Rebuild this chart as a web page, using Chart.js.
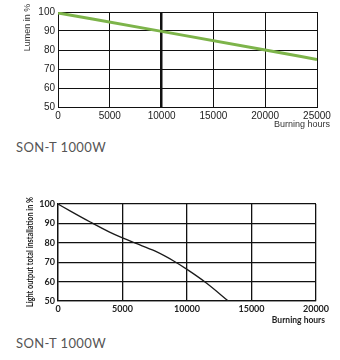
<!DOCTYPE html>
<html>
<head>
<meta charset="utf-8">
<script src="https://cdn.jsdelivr.net/npm/chart.js@4/dist/chart.umd.min.js"></script>
<style>
  body { margin: 0; background: #fff; }
  #wrap { position: relative; width: 340px; height: 360px; }
  canvas { position: absolute; left: 0; }
  .caption {
    position: absolute; left: 16px;
    font-family: Lato, "Noto Sans", sans-serif; font-size: 13px;
    letter-spacing: 0.4px; color: #555; line-height: 16px;
  }
</style>
</head>
<body>
<div id="wrap">
  <canvas id="lumenChart" style="top:0px"></canvas>
  <div class="caption" style="top:139px">SON-T 1000W</div>
  <canvas id="installChart" style="top:185px"></canvas>
  <div class="caption" style="top:335px">SON-T 1000W</div>
</div>
<script>
// lamp lumen maintenance
const lumenHours = [0, 10000, 20000, 25000];
const lumenPercent = [99.5, 89.8, 80, 75];

// light output of the whole installation
const installHours = [0, 1000, 2500, 4000, 5000, 6000, 7500, 9000, 10000, 11500, 13200];
const installPercent = [100, 96.2, 90.7, 85.5, 82.5, 79.8, 75.8, 70.5, 66.3, 59.3, 50];

const yTicks = [50, 60, 70, 80, 90, 100];
const lumenXMax = 25000;
const installXMax = 20000;

// axis titles drawn next to the plot area
const axisText = {
  id: 'axisText',
  afterDraw(chart, args, o) {
    const { ctx, chartArea } = chart;
    ctx.save();
    ctx.fillStyle = o.color;
    ctx.font = o.font;
    ctx.textBaseline = 'middle';
    ctx.textAlign = 'right';
    ctx.fillText('Burning hours', chartArea.right + o.xDx, chartArea.bottom + o.xDy);
    ctx.translate(o.yX, o.yY);
    ctx.rotate(-Math.PI / 2);
    ctx.textAlign = 'center';
    ctx.fillText(o.yText, 0, 0, o.yMax);
    ctx.restore();
  }
};

function makeChart(id, w, h, pad, xMax, hours, values, look) {
  const canvas = document.getElementById(id);
  canvas.width = w;
  canvas.height = h;
  canvas.style.width = w + 'px';
  canvas.style.height = h + 'px';
  return new Chart(canvas, {
    type: 'line',
    data: {
      datasets: [{
        data: hours.map((x, i) => ({ x: x, y: values[i] })),
        borderColor: look.lineColor,
        borderWidth: look.lineWidth,
        pointRadius: 0,
        cubicInterpolationMode: 'monotone'
      }]
    },
    options: {
      responsive: false,
      animation: false,
      layout: { padding: { left: 0, top: pad.top, right: pad.right, bottom: 0 } },
      plugins: {
        legend: { display: false },
        tooltip: { enabled: false },
        axisText: look.axisText
      },
      scales: {
        x: {
          type: 'linear',
          min: 0,
          max: xMax,
          afterFit: s => { s.height = pad.xHeight; },
          afterBuildTicks: s => { s.ticks = s.ticks.filter(t => t.value % 5000 === 0); },
          ticks: {
            stepSize: 5000, padding: 3, maxRotation: 0,
            color: look.tickColor, font: look.tickFont,
            callback: v => String(v)
          },
          grid: {
            color: '#111',
            drawTicks: false,
            lineWidth: c => (look.heavyX && c.tick && c.tick.value === look.heavyX) ? 2.5 : look.gridWidth
          },
          border: { color: '#111', width: look.gridWidth }
        },
        y: {
          min: 50,
          max: 100,
          afterFit: s => { s.width = 58; },
          afterBuildTicks: s => { s.ticks = yTicks.map(v => ({ value: v })); },
          ticks: { padding: 3, color: look.tickColor, font: look.tickFont, callback: v => String(v) },
          grid: { color: '#111', drawTicks: false, lineWidth: look.gridWidth },
          border: { color: '#111', width: look.gridWidth }
        }
      }
    },
    plugins: [axisText]
  });
}

makeChart('lumenChart', 340, 134, { top: 12, right: 23, xHeight: 27 }, lumenXMax,
  lumenHours, lumenPercent, {
    lineColor: '#7db44a',
    lineWidth: 3,
    gridWidth: 1,
    heavyX: 10000,
    tickColor: '#222',
    tickFont: { family: '"Liberation Sans", Arial, sans-serif', size: 10 },
    axisText: {
      color: '#333', font: '9px "Liberation Sans", Arial, sans-serif',
      xDx: 13, xDy: 18, yX: 28, yY: 27.5, yText: 'Lumen in %', yMax: 50
    }
  });

makeChart('installChart', 340, 140, { top: 19, right: 24, xHeight: 24 }, installXMax,
  installHours, installPercent, {
    lineColor: '#1a1a1a',
    lineWidth: 1.3,
    gridWidth: 1.3,
    heavyX: null,
    tickColor: '#222',
    tickFont: { family: 'Lato, "Noto Sans", sans-serif', size: 9, weight: 'bold' },
    axisText: {
      color: '#222', font: 'bold 8.5px Lato, "Noto Sans", sans-serif',
      xDx: 9, xDy: 19, yX: 30, yY: 67, yText: 'Light output total installation in %', yMax: 110
    }
  });
</script>
</body>
</html>
